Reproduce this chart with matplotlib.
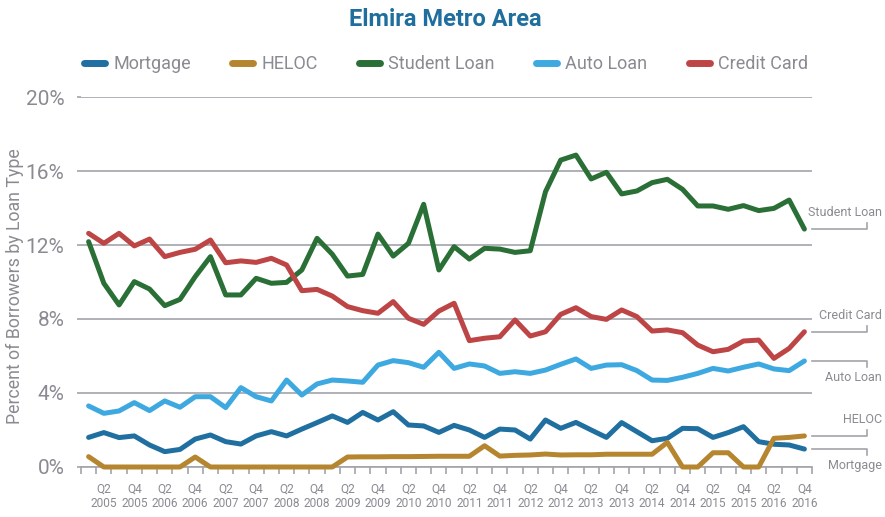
import matplotlib
matplotlib.use("Agg")
import matplotlib.pyplot as plt
from matplotlib.lines import Line2D
from matplotlib import font_manager

# pick a narrow font if one is installed
names = {f.name for f in font_manager.fontManager.ttflist}
FONT = ['Liberation Sans Narrow', 'Roboto', 'DejaVu Sans']
FONT = [f for f in FONT if f in names] + ['DejaVu Sans']
plt.rcParams['font.family'] = FONT

# quarters Q1 2005 .. Q4 2016
years = list(range(2005, 2017))
quarters = [f"Q{q} {y}" for y in years for q in range(1, 5)]
tick_labels = [f"Q{q}\n{y}" for y in years for q in (2, 4)]

series_names = ['Mortgage', 'HELOC', 'Student Loan', 'Auto Loan', 'Credit Card']
colors = ['#1F6FA0', '#B5862F', '#2A6F36', '#3DA9E0', '#BD4546']

mortgage = [1.60, 1.86, 1.59, 1.68, 1.19, 0.83, 0.95, 1.51, 1.73, 1.37, 1.24, 1.68,
            1.91, 1.68, 2.05, 2.40, 2.76, 2.41, 2.95, 2.54, 2.99, 2.27, 2.22, 1.87,
            2.25, 2.00, 1.60, 2.05, 2.00, 1.51, 2.54, 2.09, 2.41, 2.00, 1.60, 2.40,
            1.91, 1.42, 1.55, 2.09, 2.07, 1.60, 1.86, 2.18, 1.37, 1.23, 1.19, 0.97]
heloc = [0.56, 0.00, 0.00, 0.00, 0.00, 0.00, 0.00, 0.54, 0.00, 0.00, 0.00, 0.00,
         0.00, 0.00, 0.00, 0.00, 0.00, 0.54, 0.55, 0.55, 0.56, 0.56, 0.57, 0.58,
         0.58, 0.58, 1.15, 0.59, 0.63, 0.65, 0.70, 0.65, 0.66, 0.66, 0.69, 0.69,
         0.69, 0.69, 1.33, 0.00, 0.00, 0.77, 0.77, 0.00, 0.00, 1.55, 1.60, 1.68]
student = [12.18, 9.93, 8.76, 10.02, 9.62, 8.72, 9.06, 10.29, 11.37, 9.30, 9.30, 10.20,
           9.93, 9.98, 10.65, 12.36, 11.50, 10.32, 10.41, 12.59, 11.40, 12.09, 14.20, 10.65,
           11.91, 11.24, 11.82, 11.78, 11.60, 11.69, 14.88, 16.59, 16.86, 15.57, 15.93, 14.76,
           14.92, 15.37, 15.55, 15.01, 14.11, 14.11, 13.93, 14.13, 13.86, 13.98, 14.43, 12.86]
auto = [3.30, 2.90, 3.03, 3.48, 3.05, 3.57, 3.23, 3.80, 3.80, 3.21, 4.29, 3.80,
        3.57, 4.70, 3.89, 4.49, 4.70, 4.65, 4.58, 5.51, 5.75, 5.64, 5.39, 6.20,
        5.33, 5.57, 5.46, 5.06, 5.15, 5.06, 5.24, 5.55, 5.84, 5.33, 5.51, 5.53,
        5.21, 4.70, 4.68, 4.85, 5.06, 5.33, 5.19, 5.39, 5.57, 5.30, 5.21, 5.73]
credit = [12.63, 12.09, 12.63, 11.95, 12.32, 11.37, 11.60, 11.77, 12.27, 11.04, 11.14, 11.06,
          11.28, 10.92, 9.53, 9.60, 9.24, 8.67, 8.45, 8.31, 8.94, 8.04, 7.71, 8.43,
          8.85, 6.83, 6.96, 7.04, 7.95, 7.08, 7.31, 8.25, 8.61, 8.13, 7.98, 8.49,
          8.13, 7.35, 7.41, 7.26, 6.59, 6.23, 6.36, 6.81, 6.86, 5.87, 6.41, 7.31]
all_series = [mortgage, heloc, student, auto, credit]

# which side of the leader line each end label goes (+1 above, -1 below)
label_side = [-1, 1, 1, -1, 1]

GRAY = '#8A8A92'
GRID = '#A3A3AB'

fig = plt.figure(figsize=(8.85, 5.17), dpi=100)
ax = fig.add_axes([81 / 885, 50 / 517, 731 / 885, 370 / 517])

x = list(range(len(quarters)))
for vals, c in zip(all_series, colors):
    ax.plot(x, vals, color=c, lw=3.6, solid_joinstyle='round', solid_capstyle='round',
            clip_on=False, zorder=3)

ax.set_xlim(-0.5, len(quarters) - 0.5)
ax.set_ylim(0, 20)
ax.set_yticks([0, 4, 8, 12, 16, 20])
ax.set_yticklabels([f"{v}%" for v in [0, 4, 8, 12, 16, 20]])
ax.grid(axis='y', color=GRID, lw=1.2)
ax.set_axisbelow(True)
for s in ['top', 'right', 'left']:
    ax.spines[s].set_visible(False)
ax.spines['bottom'].set_color(GRID)
ax.spines['bottom'].set_linewidth(1.2)

ax.set_xticks(list(range(1, len(quarters), 2)))
ax.set_xticklabels(tick_labels, linespacing=1.15)
ax.set_xticks([i - 0.5 for i in range(len(quarters) + 1)], minor=True)
ax.tick_params(axis='x', which='major', length=0, pad=11, labelsize=8.6, labelcolor=GRAY)
ax.tick_params(axis='x', which='minor', length=5, width=1.2, color=GRID)
ax.tick_params(axis='y', length=3, width=1.2, color=GRID, pad=9, labelsize=15,
               labelcolor=GRAY)
ax.set_ylabel('Percent of Borrowers by Loan Type', fontsize=12.8, color=GRAY, labelpad=0)
ax.yaxis.set_label_coords(-0.078, 0.49)

# end labels with leader lines
x_end = len(quarters) - 0.5
x_hook = x_end + 3.6
for name, vals, side in zip(series_names, all_series, label_side):
    yv = vals[-1]
    ax.plot([x_end, x_hook, x_hook], [yv, yv, yv + side * 0.33], color=GRID, lw=1.2,
            clip_on=False)
    ax.annotate(name, xy=(x_end + 4.6, yv), xytext=(0, side * 12), textcoords='offset points',
                ha='right', va='center', fontsize=9, color=GRAY, annotation_clip=False)

fig.suptitle('Elmira Metro Area', x=0.503, y=0.985, fontsize=17, fontweight='bold',
             color='#1F6E9E')

handles = [Line2D([0], [0], color=c, lw=5, solid_capstyle='round') for c in colors]
fig.legend(handles, series_names, loc='center', bbox_to_anchor=(0.504, 0.876), ncol=5,
           frameon=False, fontsize=13, labelcolor=GRAY, handlelength=1.15,
           handletextpad=0.45, columnspacing=2.3)

fig.savefig('out.png', dpi=100)
